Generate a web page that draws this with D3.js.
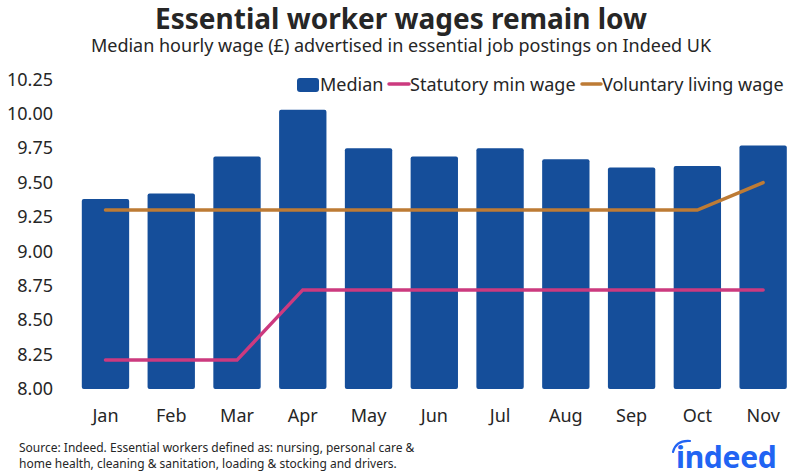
<!DOCTYPE html>
<html>
<head>
<meta charset="utf-8">
<script src="https://cdn.jsdelivr.net/npm/d3@7"></script>
<style>
  body { margin: 0; background: #fff; }
  text { font-family: "Noto Sans", sans-serif; fill: #262626; }
</style>
</head>
<body>
<div id="chart"></div>
<script>
// data
let months = ["Jan", "Feb", "Mar", "Apr", "May", "Jun", "Jul", "Aug", "Sep", "Oct", "Nov"]
let median = [9.38, 9.42, 9.69, 10.03, 9.75, 9.69, 9.75, 9.67, 9.61, 9.62, 9.77]
let minWage = [8.21, 8.21, 8.21, 8.72, 8.72, 8.72, 8.72, 8.72, 8.72, 8.72, 8.72]
let livingWage = [9.30, 9.30, 9.30, 9.30, 9.30, 9.30, 9.30, 9.30, 9.30, 9.30, 9.50]
let yTicks = [8.00, 8.25, 8.50, 8.75, 9.00, 9.25, 9.50, 9.75, 10.00, 10.25]

function drawWages(){
    let width = 800
    let height = 476
    let colours = {median: "#154e9a", min: "#cc3a7f", living: "#bd7b35"}

    let svg = d3.select("#chart")
        .append("svg")
            .attr("width", width)
            .attr("height", height)

    let x = d3.scaleBand()
        .domain(months)
        .range([72.6, 796])
        .paddingInner(0.28)
        .paddingOuter(0.14)
    let y = d3.scaleLinear()
        .domain([8, 10.25])
        .range([389, 79.4])

    // titles
    svg.append("text")
        .attr("x", 401).attr("y", 29)
        .attr("text-anchor", "middle")
        .style("font-size", "28px").style("font-weight", "bold")
        .text("Essential worker wages remain low")
    svg.append("text")
        .attr("x", 401).attr("y", 52)
        .attr("text-anchor", "middle")
        .style("font-size", "18px")
        .text("Median hourly wage (£) advertised in essential job postings on Indeed UK")

    // y axis labels, no line
    let yAxis = svg.append("g")
        .attr("transform", "translate(53,0)")
        .call(d3.axisLeft(y).tickValues(yTicks).tickFormat(d3.format(".2f")).tickSize(0).tickPadding(0))
    yAxis.select(".domain").remove()
    yAxis.selectAll("text")
        .style("font-size", "18px")
        .style("font-family", "Noto Sans")
        .attr("fill", "#262626")

    let xAxis = svg.append("g")
        .attr("transform", "translate(0,389)")
        .call(d3.axisBottom(x).tickSize(0).tickPadding(20))
    xAxis.select(".domain").remove()
    xAxis.selectAll("text")
        .style("font-size", "18px")
        .style("font-family", "Noto Sans")
        .attr("fill", "#262626")

    // bars
    svg.selectAll(".bar")
        .data(median)
        .enter()
        .append("rect")
            .attr("class", "bar")
            .attr("x", (d, i) => x(months[i]))
            .attr("width", x.bandwidth())
            .attr("y", d => y(d))
            .attr("height", d => y(8) - y(d))
            .attr("rx", 2)
            .attr("fill", colours.median)

    let line = d3.line()
        .x((d, i) => x(months[i]) + x.bandwidth() / 2)
        .y(d => y(d))

    svg.append("path")
        .attr("fill", "none")
        .attr("stroke", colours.living)
        .attr("stroke-width", 3.5)
        .attr("stroke-linecap", "round")
        .attr("d", line(livingWage))
    svg.append("path")
        .attr("fill", "none")
        .attr("stroke", colours.min)
        .attr("stroke-width", 3.5)
        .attr("stroke-linecap", "round")
        .attr("d", line(minWage))

    // legend
    let legend = svg.append("g")
    legend.append("rect")
        .attr("x", 297).attr("y", 78).attr("width", 22).attr("height", 14)
        .attr("rx", 3).attr("fill", colours.median)
    legend.append("text").attr("x", 320).attr("y", 91)
        .style("font-size", "18px").text("Median")
    legend.append("line")
        .attr("x1", 389).attr("x2", 409).attr("y1", 84).attr("y2", 84)
        .attr("stroke", colours.min).attr("stroke-width", 3.5).attr("stroke-linecap", "round")
    legend.append("text").attr("x", 410).attr("y", 91)
        .style("font-size", "18px").text("Statutory min wage")
    legend.append("line")
        .attr("x1", 582).attr("x2", 601).attr("y1", 84).attr("y2", 84)
        .attr("stroke", colours.living).attr("stroke-width", 3.5).attr("stroke-linecap", "round")
    legend.append("text").attr("x", 602).attr("y", 91)
        .style("font-size", "18px").text("Voluntary living wage")

    // footer
    let foot = svg.append("text").style("font-size", "12px")
    foot.append("tspan").attr("x", 19).attr("y", 452)
        .text("Source: Indeed. Essential workers defined as: nursing, personal care &")
    foot.append("tspan").attr("x", 19).attr("y", 468)
        .text("home health, cleaning & sanitation, loading & stocking and drivers.")

    // indeed logo
    svg.append("text")
        .attr("x", 676).attr("y", 468)
        .style("font-size", "30px").style("font-weight", "bold")
        .style("fill", "#2164f3")
        .style("letter-spacing", "-0.3px")
        .text("indeed")
    svg.append("path")
        .attr("d", "M673,452 Q676,440 690,441")
        .attr("fill", "none")
        .attr("stroke", "#2164f3")
        .attr("stroke-width", 2.2)
        .attr("stroke-linecap", "round")
}
drawWages()
</script>
</body>
</html>
